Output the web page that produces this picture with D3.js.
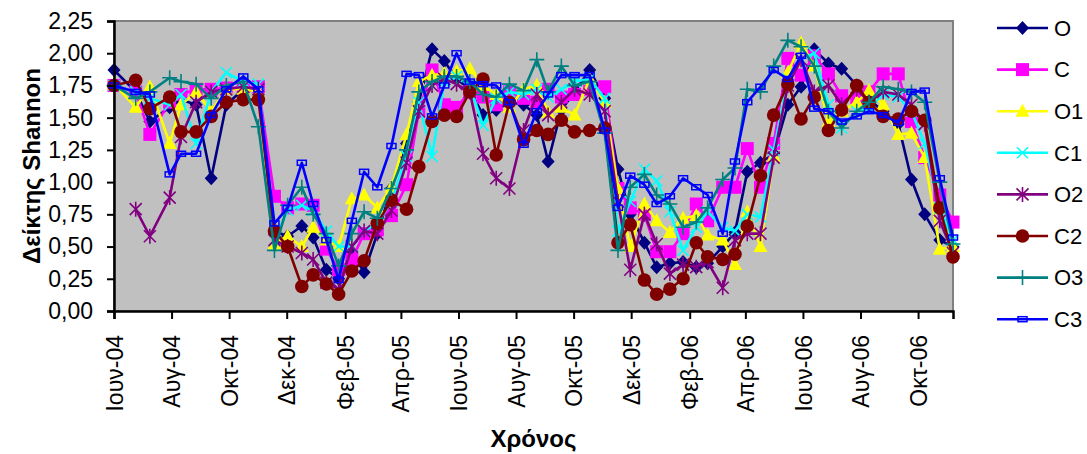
<!DOCTYPE html>
<html>
<head>
<meta charset="utf-8">
<script src="https://cdn.jsdelivr.net/npm/d3@7"></script>
<style>
body { margin: 0; background: #fff; }
text { font-family: "Liberation Sans", Arial, sans-serif; }
</style>
</head>
<body>
<svg id="chart"></svg>
<script>
// sampling dates (shared by every series)
const dates = ['2004-06-01','2004-06-24','2004-07-09','2004-07-30','2004-08-11','2004-08-27','2004-09-12','2004-09-28','2004-10-16','2004-11-01',
  '2004-11-18','2004-12-02','2004-12-17','2004-12-29','2005-01-12','2005-01-25','2005-02-08','2005-02-21','2005-03-07','2005-03-22',
  '2005-04-07','2005-04-20','2005-05-04','2005-05-17','2005-05-30','2005-06-13','2005-06-27','2005-07-11','2005-07-25','2005-08-09',
  '2005-08-23','2005-09-04','2005-09-18','2005-10-02','2005-10-18','2005-11-03','2005-11-17','2005-11-30','2005-12-15','2005-12-28',
  '2006-01-11','2006-01-25','2006-02-08','2006-02-20','2006-03-08','2006-03-21','2006-04-03','2006-04-17','2006-05-01','2006-05-16',
  '2006-05-30','2006-06-13','2006-06-28','2006-07-12','2006-07-28','2006-08-10','2006-08-25','2006-09-10','2006-09-24','2006-10-08',
  '2006-10-24','2006-11-07']

const seriesNames = ['O', 'C', 'O1', 'C1', 'O2', 'C2', 'O3', 'C3']

const valO = [1.87,1.70,1.47,1.58,1.64,1.60,1.03,1.60,1.72,1.70, 0.62,0.58,0.66,0.57,0.32,0.25,0.46,0.30,0.60,0.95,
  1.30,1.62,2.03,1.94,1.80,1.72,1.52,1.56,1.62,1.60, 1.52,1.16,1.56,1.70,1.87,1.65,1.10,0.75,0.53,0.34,
  0.37,0.38,0.34,0.37,0.50,0.61,1.08,1.15,1.22,1.60, 1.74,2.03,1.92,1.88,1.75,1.64,1.55,1.45,1.02,0.75, 0.55,0.50]
const valC = [1.75,1.70,1.37,1.62,1.68,1.72,1.72,1.73,1.73,1.74, 0.89,0.80,0.83,0.82,0.48,0.32,0.40,0.60,0.63,0.74,
  0.98,1.55,1.87,1.60,1.58,1.70,1.66,1.60,1.70,1.65, 1.62,1.72,1.66,1.68,1.72,1.74,0.95,0.80,0.75,0.46,
  0.46,0.60,0.83,0.70,0.96,0.96,1.26,0.96,1.30,1.96, 1.83,1.98,1.84,1.67,1.65,1.70,1.84,1.84,1.47,1.19, 0.90,0.69]
const valO1 = [1.76,1.58,1.74,1.30,1.60,1.70,1.55,1.72,1.72,1.70, 0.52,0.58,0.50,0.65,0.55,0.50,0.87,0.90,0.80,0.96,
  1.37,1.78,1.83,1.84,1.86,1.88,1.75,1.68,1.58,1.72, 1.75,1.54,1.58,1.52,1.80,1.62,0.95,0.50,0.83,0.70,
  0.61,0.72,0.74,0.59,0.55,0.36,0.77,0.50,1.20,1.85, 2.08,1.90,1.47,1.55,1.62,1.71,1.60,1.37,1.38,1.19, 0.48,0.50]
const valC1 = [1.75,1.70,1.65,1.60,1.68,1.30,1.70,1.85,1.78,1.76, 0.55,0.78,0.82,0.78,0.62,0.50,0.50,0.62,0.68,0.85,
  1.20,1.62,1.20,1.78,1.82,1.75,1.44,1.65,1.70,1.68, 1.72,1.66,1.72,1.78,1.80,1.65,0.62,0.85,1.10,1.01,
  0.77,0.47,0.65,0.77,0.65,0.62,0.75,0.73,1.25,1.80, 1.95,2.00,1.60,1.42,1.55,1.58,1.68,1.66,1.55,1.30, 0.80,0.55]
const valO2 = [null,0.79,0.58,0.88,1.35,1.62,1.70,1.72,1.74,1.72, 0.55,0.50,0.45,0.40,0.22,0.17,0.50,0.62,0.60,0.78,
  1.15,1.55,1.75,1.80,1.76,1.70,1.22,1.03,0.95,1.40, 1.68,1.52,1.62,1.72,1.68,1.55,0.85,0.32,0.75,0.52,
  0.29,0.36,0.34,0.38,0.18,0.55,0.60,0.60,1.19,1.75, 1.95,1.70,1.75,1.60,1.72,1.62,1.70,1.68,1.60,1.45, 0.70,0.45]
const valC2 = [1.75,1.79,1.57,1.66,1.39,1.39,1.51,1.62,1.64,1.64, 0.62,0.50,0.19,0.28,0.21,0.13,0.31,0.39,0.68,0.86,
  0.79,1.12,1.47,1.52,1.51,1.70,1.80,1.21,1.62,1.33, 1.40,1.37,1.48,1.39,1.40,1.42,0.53,0.67,0.24,0.13,
  0.17,0.25,0.53,0.42,0.40,0.44,0.66,1.05,1.52,1.76, 1.49,1.66,1.40,1.56,1.75,1.62,1.51,1.49,1.55,1.48, 0.80,0.42]
const valO3 = [1.75,1.65,1.70,1.81,1.78,1.76,1.65,1.75,1.78,1.43, 0.47,0.82,0.96,0.75,0.60,0.35,0.60,0.77,0.72,0.95,
  1.25,1.70,1.78,1.82,1.82,1.78,1.68,1.66,1.76,1.71, 1.95,1.70,1.90,1.75,1.78,1.38,0.47,0.96,1.06,0.90,
  0.83,0.65,0.69,0.80,1.02,1.11,1.72,1.70,1.90,2.10, 2.05,1.90,1.55,1.42,1.55,1.62,1.74,1.72,1.70,1.62, 1.00,0.52]
const valC3 = [1.75,1.70,1.68,1.06,1.22,1.22,1.52,1.72,1.82,1.72, 0.68,0.80,1.15,0.83,0.55,0.24,0.70,1.08,0.96,1.28,
  1.84,1.83,1.51,1.75,2.00,1.78,1.76,1.75,1.62,1.29, 1.55,1.68,1.83,1.83,1.83,1.40,0.80,1.05,0.98,0.83,
  0.89,1.03,0.96,0.90,0.60,1.16,1.62,1.74,1.87,1.80, 1.98,1.57,1.55,1.47,1.51,1.55,1.52,1.46,1.70,1.71, 1.03,0.57]

const tickDates = ['2004-06-01','2004-08-01','2004-10-01','2004-12-01','2005-02-01','2005-04-01','2005-06-01','2005-08-01',
  '2005-10-01','2005-12-01','2006-02-01','2006-04-01','2006-06-01','2006-08-01','2006-10-01']
const tickLabels = ['Ιουν-04','Αυγ-04','Οκτ-04','Δεκ-04','Φεβ-05','Απρ-05','Ιουν-05','Αυγ-05',
  'Οκτ-05','Δεκ-05','Φεβ-06','Απρ-06','Ιουν-06','Αυγ-06','Οκτ-06']
const yTicks = [0, 0.25, 0.5, 0.75, 1, 1.25, 1.5, 1.75, 2, 2.25]

const width = 1087
const height = 454
let plot = { left: 114, right: 953, top: 21, bottom: 311 }

const colours = ['#000080', '#ff00ff', '#ffff00', '#00ffff', '#800080', '#800000', '#008080', '#0000ff']
const markers = ['diamond', 'square', 'triangle', 'cross', 'star', 'circle', 'plus', 'dash']
const values = [valO, valC, valO1, valC1, valO2, valC2, valO3, valC3]

const parse = d3.timeParse('%Y-%m-%d')

let x = d3.scaleTime()
    .domain([parse(dates[0]), parse(dates[dates.length - 1])])
    .range([plot.left, plot.right])
let y = d3.scaleLinear()
    .domain([0, 2.25])
    .range([plot.bottom, plot.top])

let svg = d3.select('#chart')
    .attr('width', width)
    .attr('height', height)

// plot area
svg.append('rect')
    .attr('x', plot.left)
    .attr('y', plot.top)
    .attr('width', plot.right - plot.left)
    .attr('height', plot.bottom - plot.top)
    .style('fill', '#c0c0c0')
    .style('stroke', '#808080')
    .style('stroke-width', 2)

// draws one marker into g
function drawMarker(g, type, colour) {
    if (type === 'diamond') {
        g.append('path').attr('d', 'M0,-7L6.5,0L0,7L-6.5,0Z').style('fill', colour)
    } else if (type === 'square') {
        g.append('rect').attr('x', -6.5).attr('y', -6.5).attr('width', 13).attr('height', 13).style('fill', colour)
    } else if (type === 'triangle') {
        g.append('path').attr('d', 'M0,-7.5L7,5.5L-7,5.5Z').style('fill', colour)
    } else if (type === 'cross') {
        g.append('path').attr('d', 'M-5.5,-5.5L5.5,5.5M-5.5,5.5L5.5,-5.5')
            .style('stroke', colour).style('stroke-width', 1.6).style('fill', 'none')
    } else if (type === 'star') {
        g.append('path').attr('d', 'M-6,-6L6,6M-6,6L6,-6M0,-7.5L0,7.5')
            .style('stroke', colour).style('stroke-width', 1.6).style('fill', 'none')
    } else if (type === 'circle') {
        g.append('circle').attr('r', 6.8).style('fill', colour)
    } else if (type === 'plus') {
        g.append('path').attr('d', 'M-7.5,0L7.5,0M0,-7.5L0,7.5')
            .style('stroke', colour).style('stroke-width', 1.6).style('fill', 'none')
    } else if (type === 'dash') {
        g.append('rect').attr('x', -4.5).attr('y', -2.5).attr('width', 9).attr('height', 5)
            .style('stroke', colour).style('stroke-width', 1.5).style('fill', 'none')
    }
}

let line = d3.line()
    .defined(d => d.v !== null)
    .x(d => x(d.date))
    .y(d => y(d.v))

values.forEach((vals, i) => {
    let pts = vals.map((v, j) => ({ date: parse(dates[j]), v: v }))
    let g = svg.append('g').attr('class', 'series-' + seriesNames[i])
    g.append('path')
        .datum(pts)
        .attr('d', line)
        .style('fill', 'none')
        .style('stroke', colours[i])
        .style('stroke-width', 2.6)
        .style('stroke-linejoin', 'round')
    g.selectAll('g.mk')
        .data(pts.filter(d => d.v !== null))
        .join('g')
        .attr('class', 'mk')
        .attr('transform', d => `translate(${x(d.date)},${y(d.v)})`)
        .each(function () { drawMarker(d3.select(this), markers[i], colours[i]) })
})

// y axis
let yAxis = svg.append('g')
    .attr('transform', `translate(${plot.left},0)`)
    .call(d3.axisLeft(y).tickValues(yTicks).tickSize(7).tickPadding(14)
        .tickFormat(d => d3.format('.2f')(d).replace('.', ',')))
yAxis.select('.domain').style('stroke', '#000').style('stroke-width', 2.5)
yAxis.selectAll('.tick line').style('stroke', '#000').style('stroke-width', 2)
yAxis.selectAll('.tick text')
    .style('font-size', '23px')
    .style('fill', '#000')

// x axis
let xAxis = svg.append('g')
    .attr('transform', `translate(0,${plot.bottom})`)
    .call(d3.axisBottom(x).tickValues(tickDates.map(parse)).tickSize(8)
        .tickFormat((d, i) => tickLabels[i]))
xAxis.select('.domain').style('stroke', '#000').style('stroke-width', 2.5)
xAxis.selectAll('.tick line').style('stroke', '#000').style('stroke-width', 2)
xAxis.selectAll('.tick text')
    .attr('transform', 'rotate(-90)')
    .attr('text-anchor', 'end')
    .attr('x', -24)
    .attr('y', 0)
    .attr('dy', '0.35em')
    .style('font-size', '23px')
    .style('fill', '#000')

// axis titles
svg.append('text')
    .attr('transform', `translate(40,${(plot.top + plot.bottom) / 2}) rotate(-90)`)
    .attr('text-anchor', 'middle')
    .style('font-size', '24px')
    .style('font-weight', 'bold')
    .text('Δείκτης Shannon')

svg.append('text')
    .attr('x', (plot.left + plot.right) / 2)
    .attr('y', 447)
    .attr('text-anchor', 'middle')
    .style('font-size', '24px')
    .style('font-weight', 'bold')
    .text('Χρόνος')

// legend
let legend = svg.append('g').attr('class', 'legend')
seriesNames.forEach((name, i) => {
    let row = legend.append('g').attr('transform', `translate(997,${28 + i * 41.6})`)
    row.append('line')
        .attr('x1', 0).attr('x2', 51)
        .style('stroke', colours[i])
        .style('stroke-width', 2.6)
    drawMarker(row.append('g').attr('transform', 'translate(25.5,0)'), markers[i], colours[i])
    row.append('text')
        .attr('x', 57)
        .attr('dy', '0.35em')
        .style('font-size', '22px')
        .text(name)
})
</script>
</body>
</html>
